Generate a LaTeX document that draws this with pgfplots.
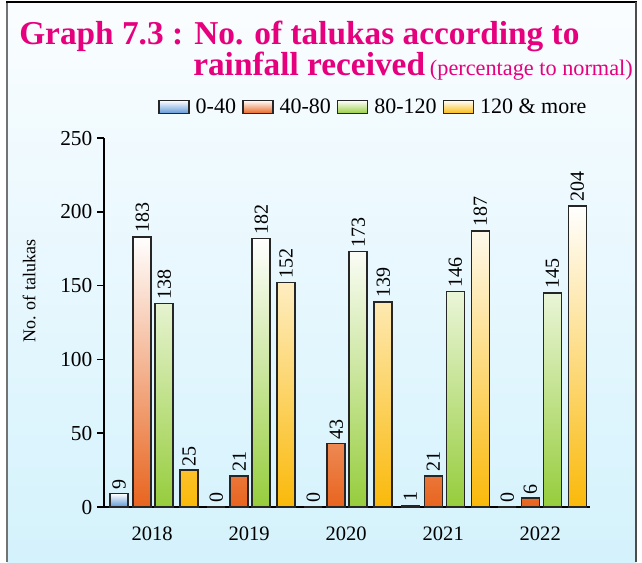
\documentclass[border=0pt]{standalone}
\usepackage{pgfplots}
\pgfplotsset{compat=1.18}
\usepackage{fontspec}
\setmainfont{Liberation Serif}
\definecolor{mag}{RGB}{230,0,126}
\definecolor{cblue}{RGB}{95,150,215}
\definecolor{corange}{RGB}{232,100,30}
\definecolor{cgreen}{RGB}{150,205,60}
\definecolor{cyellow}{RGB}{250,185,10}
\definecolor{bgtop}{RGB}{250,253,255}
\definecolor{bgbot}{RGB}{212,242,252}
\begin{document}
\begin{tikzpicture}
\begin{scope}[x=0.75pt,y=-0.75pt]
\fill[top color=bgtop, bottom color=bgbot] (7,2) rectangle (636,562);
\draw[black!55, line width=1.5pt] (7,2) -- (7,562);
\draw[black, line width=0.9pt] (6,2) -- (637,2);
\draw[black!70, line width=1.5pt] (636,2) -- (636,562);
\node[anchor=base west, text=mag, inner sep=0pt, font=\bfseries\fontsize{25}{28}\selectfont] at (19,44) {Graph 7.3 : No. of talukas according to};
\node[anchor=base west, text=mag, inner sep=0pt, font=\bfseries\fontsize{25}{28}\selectfont] at (193,75.5) {rainfall received};
\node[anchor=base east, text=mag, inner sep=0pt, font=\fontsize{16.7}{18}\selectfont] at (633,75.5) {(percentage to normal)};
\end{scope}
\begin{axis}[
  at={(78pt,-380.25pt)}, anchor=south west,
  scale only axis, width=364.5pt, height=276.75pt,
  xmin=-0.497, xmax=4.513, ymin=0, ymax=250,
  clip=false,
  axis x line=bottom, axis y line=left,
  axis line style={black, line width=1.1pt},
  x axis line style={-, shorten <=-5.25pt},
  y axis line style={-},
  xtick={0,1,2,3,4}, xticklabels={2018,2019,2020,2021,2022},
  xtick style={draw=none},
  ytick={0,50,100,150,200,250},
  tick align=outside, major tick length=5.25pt,
  ytick style={black, line width=1.1pt},
  /pgf/number format/assume math mode=true,
  yticklabel style={font=\fontsize{16}{16}\selectfont},
  xticklabel style={font=\fontsize{15.4}{16}\selectfont, yshift=-6pt},
  ylabel={No. of talukas},
  ylabel style={font=\fontsize{13.5}{14}\selectfont, at={(axis description cs:-0.154,0.585)}, anchor=center},
  ybar, bar width=13.5pt,
  nodes near coords,
  every node near coord/.append style={rotate=90, anchor=west, inner sep=2.5pt, font=\fontsize{15}{15}\selectfont},
  legend columns=4,
  legend style={draw=none, fill=none, at={(axis description cs:1.0,1.084)}, anchor=east, inner sep=0pt, font=\fontsize{16.5}{17}\selectfont,
    nodes={inner sep=2.5pt},
    /tikz/every odd column/.append style={column sep=2pt},
    /tikz/every even column/.append style={column sep=2pt}},
  legend image code/.code={\draw[#1] (0pt,-5pt) rectangle (22.5pt,5pt);},
]
\addplot[draw=black!85, line width=1.1pt, top color=white, bottom color=cblue, bar shift=-24.75pt]
  coordinates {(0,9) (1,0) (2,0) (3,1) (4,0)};
\addplot[draw=black!85, line width=1.1pt, top color=white, bottom color=corange, bar shift=-7.5pt]
  coordinates {(0,183) (1,21) (2,43) (3,21) (4,6)};
\addplot[draw=black!85, line width=1.1pt, top color=white, bottom color=cgreen, bar shift=9pt]
  coordinates {(0,138) (1,182) (2,173) (3,146) (4,145)};
\addplot[draw=black!85, line width=1.1pt, top color=white, bottom color=cyellow, bar shift=27.75pt]
  coordinates {(0,25) (1,152) (2,139) (3,187) (4,204)};
\legend{0-40,40-80,80-120,120 \& more}
\end{axis}
\pgfresetboundingbox
\path (0,0) rectangle (481.5pt,-421.5pt);
\end{tikzpicture}
\end{document}
